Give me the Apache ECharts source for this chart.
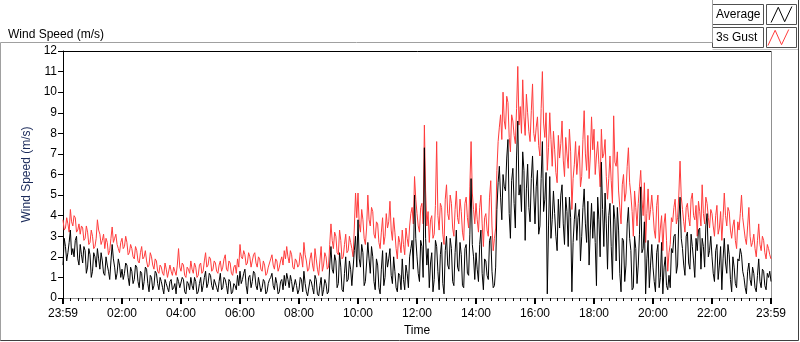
<!DOCTYPE html>
<html>
<head>
<meta charset="utf-8">
<script src="https://cdn.jsdelivr.net/npm/echarts@6/dist/echarts.min.js"></script>
<style>
html,body{margin:0;padding:0;background:#fff;}
#chart{width:800px;height:342px;}
</style>
</head>
<body>
<div id="chart"></div>
<script>
// Sampling step of the hand-read series (minutes), starting at 23:59
var SAMPLE_MINUTES = 2.5;
var seriesNames = ['Average', '3s Gust'];
var yTicks = [0,1,2,3,4,5,6,7,8,9,10,11,12];
var xTickLabels = ['23:59','02:00','04:00','06:00','08:00','10:00','12:00','14:00','16:00','18:00','20:00','22:00','23:59'];

// 3s Gust (m/s), one value per 2.5 minutes (one row = 2 hours)
var gust = [
  3.8,3.3,3.4,3.9,3.6,3.2,4.3,3.7,3.5,4.0,3.9,3.2,3.3,3.6,3.1,3.5,3.4,2.8,2.9,3.5,3.2,2.6,2.7,3.3,3.0,2.4,2.5,2.9,3.8,3.3,3.1,2.6,2.8,3.1,2.4,2.9,2.7,2.1,2.3,2.9,3.45,2.7,2.9,3.1,2.6,2.4,2.2,2.7,
  2.9,2.4,2.5,3.0,2.7,2.1,2.2,2.6,2.4,2.0,1.9,2.5,2.3,1.8,1.7,2.2,2.5,1.9,2.0,2.3,1.8,1.5,1.6,2.2,2.0,1.6,1.4,1.9,1.8,1.3,1.2,1.6,1.5,1.2,1.1,1.7,1.4,1.0,1.0,1.6,1.3,1.1,1.5,1.3,1.1,1.6,2.4,1.5,
  1.3,1.7,1.6,1.1,1.0,1.5,1.4,1.2,1.8,1.4,1.2,1.7,1.5,1.0,1.1,1.6,1.7,1.2,1.3,1.8,2.2,1.5,1.6,2.0,1.9,1.3,1.4,1.8,1.7,1.3,1.2,1.6,1.8,1.3,1.5,1.9,2.1,1.4,1.3,1.8,1.7,1.2,1.1,1.5,1.6,1.2,1.9,1.5,
  2.6,2.0,1.9,2.3,2.1,1.6,1.7,2.2,2.0,1.5,1.8,2.1,2.2,1.7,1.5,2.0,1.9,1.4,1.3,1.8,1.6,1.1,1.2,1.5,1.7,1.9,2.1,1.6,1.4,1.9,1.8,1.3,1.5,1.8,2.0,1.6,2.3,1.9,2.5,2.0,1.7,2.3,2.1,1.5,1.4,1.9,1.8,1.5,
  1.6,2.2,2.0,1.5,2.7,2.1,1.8,1.3,1.4,1.9,2.2,1.6,1.3,2.4,1.9,1.4,1.1,1.8,2.5,1.3,1.6,2.2,2.0,1.4,1.5,2.6,3.6,2.8,2.4,3.2,3.0,2.2,2.1,3.3,2.8,1.9,2.0,2.6,3.1,2.2,2.3,3.0,2.7,2.4,2.0,3.4,5.1,3.9,
  5.1,3.6,3.2,4.3,3.8,2.9,2.6,3.4,5.0,3.8,3.5,4.4,4.2,3.1,2.9,3.7,3.6,2.7,2.4,3.2,3.9,2.6,3.0,4.1,3.4,3.7,4.7,3.3,2.8,3.9,3.2,2.4,1.9,3.0,2.7,2.2,3.3,2.6,2.1,3.4,2.9,2.5,3.5,4.1,4.4,3.6,5.9,4.8,
  4.1,3.5,3.2,4.4,4.6,3.6,8.4,5.2,3.5,4.2,2.7,3.8,4.0,2.9,3.1,4.5,7.6,4.0,3.3,4.6,4.4,3.1,2.6,4.8,5.5,4.1,3.8,5.0,4.6,3.4,3.0,4.3,5.2,3.9,3.6,4.8,4.2,3.2,2.8,4.6,4.9,3.9,3.4,5.4,7.6,5.1,4.3,3.6,
  4.6,3.8,3.2,4.4,5.0,3.6,2.5,3.9,4.1,3.3,3.0,4.9,5.7,3.5,2.3,2.9,3.4,6.2,7.6,8.3,8.9,7.7,10.0,8.6,8.2,9.8,9.5,7.8,7.1,8.9,8.6,7.9,7.5,9.2,11.25,8.4,9.3,8.0,10.6,8.8,7.9,9.9,9.0,8.1,7.6,9.1,10.4,8.0,
  7.6,8.3,8.8,7.4,6.9,9.2,11.0,8.5,7.8,9.0,6.2,7.3,9.0,7.7,6.4,8.1,7.2,6.1,5.6,7.9,6.8,7.5,8.6,6.7,5.9,7.8,7.0,6.3,8.2,7.1,4.3,5.8,6.5,7.6,6.0,6.8,7.4,5.4,5.9,7.7,9.1,7.0,6.2,7.9,5.8,6.9,8.8,7.2,
  8.2,6.0,6.9,7.6,6.5,5.4,8.2,6.8,7.0,7.7,5.9,4.8,5.8,6.9,5.7,4.6,8.85,6.6,6.4,7.1,5.2,4.4,3.6,5.5,6.0,4.7,5.1,6.4,7.3,5.6,5.0,4.2,3.0,5.2,4.4,3.5,4.6,5.4,6.2,4.8,4.0,5.6,2.7,4.1,5.3,3.8,4.3,5.0,
  4.2,3.3,2.9,4.5,5.0,2.7,3.4,4.0,2.3,3.6,4.1,2.8,1.3,2.2,2.6,3.9,3.7,4.4,4.8,3.6,3.9,5.0,6.65,4.9,4.3,3.7,3.2,4.4,4.6,3.9,3.5,4.8,5.1,4.0,3.8,4.5,3.0,4.7,4.2,3.5,5.5,4.1,3.6,4.9,4.6,3.9,3.4,4.3,
  4.1,3.5,3.0,4.0,4.5,3.1,3.4,4.2,2.8,3.9,5.1,4.0,3.5,4.4,4.2,3.3,2.9,3.5,3.8,2.8,2.4,3.7,3.3,4.1,5.0,3.9,3.4,2.9,2.6,3.5,4.4,3.0,2.5,2.7,3.1,2.4,2.0,2.8,3.6,2.6,2.3,3.0,2.8,2.2,1.9,2.6,2.4,2.1,1.9
];

// Average (m/s), one value per 2.5 minutes (one row = 2 hours)
var average = [
  1.6,2.9,2.5,1.8,2.2,2.7,3.3,2.1,2.4,2.0,2.8,3.0,1.9,1.6,2.6,2.1,1.7,2.5,2.3,1.2,1.5,2.4,2.1,1.0,1.3,2.2,2.0,1.5,2.4,1.9,1.4,2.2,1.8,1.2,1.1,2.0,1.6,1.3,0.9,1.8,2.6,1.9,1.5,0.9,1.2,1.9,1.6,1.0,
  1.4,0.9,1.2,1.7,1.6,1.0,0.6,1.5,1.3,0.7,0.9,1.6,1.5,0.8,0.5,1.3,1.2,0.4,0.8,1.5,1.4,0.7,0.3,1.1,1.0,0.4,0.6,1.3,1.2,0.7,0.4,1.0,0.8,0.5,0.2,0.9,0.7,0.5,0.3,0.8,0.9,0.4,0.5,0.7,0.2,1.0,0.8,0.5,
  0.5,1.0,0.9,0.3,0.2,0.8,0.7,0.4,1.0,0.6,0.4,1.0,0.8,0.2,0.3,0.7,1.0,0.3,0.6,1.0,1.3,0.5,0.7,1.2,1.1,0.6,0.4,0.9,0.9,0.5,0.3,0.8,1.2,0.4,0.5,1.0,0.9,0.6,0.2,0.9,0.8,0.2,0.3,0.7,0.6,0.4,1.1,0.6,
  1.3,0.7,0.9,1.2,1.4,0.6,0.2,1.0,1.1,0.5,0.8,1.3,1.2,0.6,0.4,1.0,1.0,0.3,0.5,0.9,0.8,0.2,0.3,0.7,0.9,1.0,1.2,0.6,0.4,1.0,0.7,0.2,0.3,0.8,0.9,0.4,1.1,0.6,1.2,0.9,0.5,1.1,0.8,0.3,0.3,0.9,0.6,0.2,
  0.4,1.0,0.9,0.3,1.3,0.7,0.3,0.1,0.1,0.9,0.8,0.5,0.2,1.1,0.9,0.2,0.1,0.6,1.0,0.1,0.4,0.9,0.7,0.2,0.3,1.6,2.5,1.4,1.2,2.1,1.8,0.5,0.7,2.2,1.5,0.4,0.3,1.2,2.0,0.8,0.9,1.8,1.4,0.6,0.6,2.3,3.0,1.5,
  3.8,1.9,1.5,2.6,2.2,0.6,0.8,1.7,2.7,1.9,1.2,2.5,2.0,0.8,0.4,1.9,1.6,0.5,0.2,1.4,2.3,0.6,1.0,2.2,1.5,1.9,2.4,1.1,0.7,2.0,1.3,0.5,0.3,1.2,1.1,0.4,1.9,0.9,0.4,1.6,1.2,0.5,2.0,2.4,2.8,1.4,5.0,2.9,
  2.0,1.2,0.8,2.8,2.5,1.0,7.3,2.9,1.6,2.4,0.5,1.7,2.2,0.3,0.9,2.8,2.5,1.3,0.4,2.1,2.7,0.7,0.2,2.3,3.0,1.6,1.4,2.9,2.4,0.8,0.6,2.2,3.3,1.5,1.3,2.7,2.1,0.6,0.5,2.4,2.6,1.2,1.1,3.1,5.8,2.6,2.0,0.9,
  2.2,1.4,0.8,2.6,3.3,1.2,0.4,1.9,1.8,1.1,0.9,2.8,3.0,1.3,0.5,0.6,1.5,4.3,5.6,6.4,4.9,3.8,6.0,5.4,5.2,6.8,7.7,4.1,2.9,5.7,6.3,4.6,3.4,6.9,8.6,5.0,5.5,4.2,7.1,6.2,2.8,5.3,6.5,4.4,3.7,5.8,6.9,5.1,
  3.6,5.4,6.2,3.1,3.5,5.8,7.6,4.2,4.8,6.1,0.2,3.5,5.9,2.9,3.8,5.2,4.1,3.0,2.3,4.8,3.4,5.0,5.5,3.6,2.6,4.9,4.2,2.5,4.9,3.9,0.3,2.7,3.8,4.6,2.8,3.9,4.3,1.8,3.0,4.4,5.3,3.6,2.7,4.7,1.6,3.3,4.6,2.9,
  4.2,2.7,0.6,4.9,3.8,2.0,6.6,4.3,2.5,5.1,3.6,1.4,4.0,4.6,2.5,0.9,4.5,3.8,1.8,4.4,3.3,1.2,0.3,2.9,2.8,0.8,1.6,3.6,4.4,2.9,2.3,0.4,0.5,3.0,2.4,0.7,1.6,3.1,5.4,2.2,2.4,3.7,0.2,1.9,2.8,0.5,1.6,2.6,
  1.5,0.8,0.3,2.2,2.6,0.5,1.0,2.7,0.2,1.5,2.0,0.6,0.4,1.1,0.5,2.4,2.2,3.0,3.1,1.2,1.6,3.8,4.9,2.9,2.4,1.6,1.1,3.0,3.2,1.7,1.4,3.1,2.5,1.8,1.0,2.9,2.3,3.3,3.4,1.4,2.9,2.5,1.5,3.5,4.1,2.0,2.3,3.0,
  2.0,1.2,0.8,2.3,2.6,0.9,1.6,2.5,0.4,1.9,2.9,1.7,1.2,2.6,2.1,0.9,0.3,2.0,1.5,0.7,0.5,1.9,1.8,2.4,2.1,1.3,1.0,0.5,0.2,1.3,1.7,0.9,0.6,1.5,1.2,0.5,0.3,1.1,1.9,0.8,0.5,1.4,1.3,0.6,0.4,1.2,1.0,1.3,0.8
];

function pairs(arr){ return arr.map(function(v,i){ return [i*SAMPLE_MINUTES, v]; }); }

var FONT = 'Liberation Sans';
var chart = echarts.init(document.getElementById('chart'), null, {renderer:'canvas'});
var zig = 'path://M0,20 L9,1 L17,19 L26,0';

chart.setOption({
  backgroundColor:'#ffffff',
  animation:false,
  textStyle:{fontFamily:FONT},
  title:{text:'Wind Speed (m/s)', left:3, top:24, textStyle:{fontSize:12, fontWeight:'normal', color:'#000', fontFamily:FONT}},
  legend:[
    {data:[{name:seriesNames[0], itemStyle:{color:'transparent', borderColor:'#000', borderWidth:1}}],
     left:716, top:6, align:'right', orient:'vertical', icon:zig, itemWidth:24, itemHeight:16, padding:0,
     textStyle:{fontSize:12, color:'#000', fontFamily:FONT, padding:[0,4,0,0]}, selectedMode:false},
    {data:[{name:seriesNames[1], itemStyle:{color:'transparent', borderColor:'#ff3c3c', borderWidth:1}}],
     left:716, top:29, align:'right', orient:'vertical', icon:zig, itemWidth:24, itemHeight:16, padding:0,
     textStyle:{fontSize:12, color:'#000', fontFamily:FONT, padding:[0,4,0,0]}, selectedMode:false}
  ],
  graphic:[
    {type:'polyline', shape:{points:[[0.5,341],[0.5,42.5],[712.5,42.5],[712.5,0]]}, style:{stroke:'#a0a0a0', fill:null, lineWidth:1}, silent:true},
    {type:'polyline', shape:{points:[[712.5,49.5],[798.5,49.5]]}, style:{stroke:'#c8c8c8', fill:null, lineWidth:1}, silent:true},
    {type:'polyline', shape:{points:[[0.5,340.5],[798.5,340.5],[798.5,0]]}, style:{stroke:'#404040', fill:null, lineWidth:1}, silent:true},
    {type:'rect', shape:{x:712.5,y:4.5,width:51,height:20}, style:{stroke:'#505050', fill:null, lineWidth:1}, silent:true, z:-1},
    {type:'rect', shape:{x:766.5,y:4.5,width:30,height:20}, style:{stroke:'#505050', fill:null, lineWidth:1}, silent:true, z:-1},
    {type:'rect', shape:{x:712.5,y:27.5,width:51,height:20}, style:{stroke:'#505050', fill:null, lineWidth:1}, silent:true, z:-1},
    {type:'rect', shape:{x:766.5,y:27.5,width:30,height:20}, style:{stroke:'#505050', fill:null, lineWidth:1}, silent:true, z:-1},
    {type:'polyline', shape:{points:[[63,51.5],[771.5,51.5]]}, style:{stroke:'#000', fill:null, lineWidth:1}, silent:true},
    {type:'polyline', shape:{points:[[771.5,51.5],[771.5,302]]}, style:{stroke:'#909090', fill:null, lineWidth:1}, silent:true}
  ],
  grid:{left:63, right:29, top:51, bottom:40, containLabel:false},
  xAxis:{
    type:'value', min:0, max:1440, interval:120,
    name:'Time', nameLocation:'middle', nameGap:27,
    nameTextStyle:{fontSize:12, color:'#000', fontFamily:FONT},
    axisLine:{show:true, lineStyle:{color:'#909090', width:1}},
    axisTick:{show:true, length:6, inside:false, lineStyle:{color:'#000', width:2}},
    minorTick:{show:true, splitNumber:8, length:3, lineStyle:{color:'#000', width:1}},
    splitLine:{show:false},
    axisLabel:{margin:10, fontSize:12, color:'#000', fontFamily:FONT,
      formatter:function(v){ var idx = Math.round(v/120); return xTickLabels[idx] || ''; }}
  },
  yAxis:{
    type:'value', min:yTicks[0], max:yTicks[yTicks.length-1], interval:1,
    name:'Wind Speed (m/s)', nameLocation:'middle', nameGap:30, nameRotate:90,
    nameTextStyle:{fontSize:12, color:'#1a2a5a', fontFamily:FONT},
    axisLine:{show:true, lineStyle:{color:'#000', width:1}},
    axisTick:{show:true, length:5, lineStyle:{color:'#000', width:1}},
    splitLine:{show:false},
    axisLabel:{margin:6, fontSize:12, color:'#000', fontFamily:FONT}
  },
  series:[
    {name:seriesNames[1], type:'line', data:pairs(gust), showSymbol:false, symbol:'none',
     lineStyle:{color:'#ff3c3c', width:1}, itemStyle:{color:'#ff3c3c'}, z:2},
    {name:seriesNames[0], type:'line', data:pairs(average), showSymbol:false, symbol:'none',
     lineStyle:{color:'#000', width:1}, itemStyle:{color:'#000'}, z:3}
  ]
});
</script>
</body>
</html>
